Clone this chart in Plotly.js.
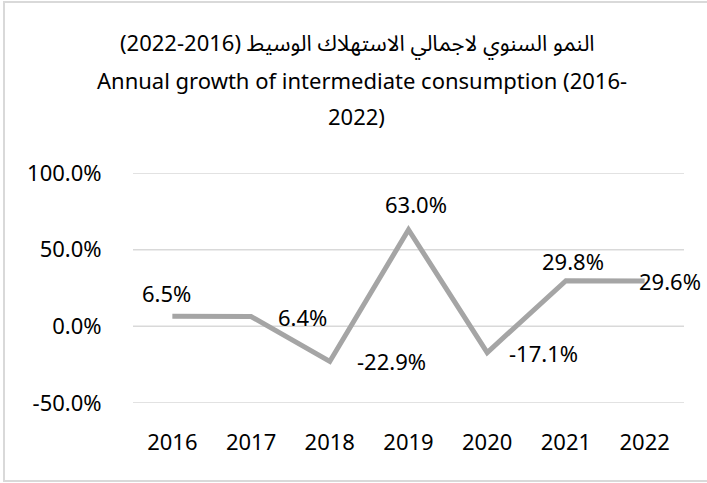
<!DOCTYPE html>
<html>
<head>
<meta charset="utf-8">
<script src="https://cdn.plot.ly/plotly-3.0.1.min.js"></script>
<style>
html,body{margin:0;padding:0;background:#fff;overflow:hidden;}
#frame{position:absolute;left:3px;top:1px;width:712px;height:481px;border:2px solid #d9d9d9;box-sizing:border-box;pointer-events:none;}
#chart{position:absolute;left:0;top:0;width:707px;height:483px;}
</style>
</head>
<body>
<div id="chart"></div>
<div id="frame"></div>
<script>
const years = [2016, 2017, 2018, 2019, 2020, 2021, 2022];
const yearLabels = ["2016","2017","2018","2019","2020","2021","2022"];
const growth = [6.5, 6.4, -22.9, 63.0, -17.1, 29.8, 29.6];
const labelText = ["6.5%","6.4%","-22.9%","63.0%","-17.1%","29.8%","29.6%"];
const yTicks = [-50, 0, 50, 100];
const yTickText = ["-50.0%","0.0%","50.0%","100.0%"];
const titleLines = ["النمو السنوي لاجمالي الاستهلاك الوسيط (2016-2022)",
                    "Annual growth of intermediate consumption (2016-",
                    "2022)"];

const FONT = "'Noto Sans', 'Noto Sans Arabic', 'DejaVu Sans', sans-serif";
const FS = 22;
const labelShiftX = [-6, 51, 62, 7, 56, 7, 25];
const labelShiftY = [23, 0, 0, 26, 0, 20, 0];

const annotations = years.map((y, i) => ({
  x: y, y: growth[i], xref: 'x', yref: 'y',
  text: labelText[i], showarrow: false,
  xanchor: 'center', yanchor: 'middle',
  xshift: labelShiftX[i], yshift: labelShiftY[i],
  font: {family: FONT, size: FS, color: '#000'}
}));
const titleY = [1.561, 1.404, 1.248];
const titleX = [0.408, 0.415, 0.405];
titleLines.forEach((t, i) => annotations.push({
  x: titleX[i], y: titleY[i], xref: 'paper', yref: 'paper',
  text: t, showarrow: false, xanchor: 'center', yanchor: 'middle',
  font: {family: FONT, size: FS, color: '#000'}
}));

const gridShapes = yTicks.map(v => ({
  type: 'line', xref: 'paper', yref: 'y', x0: 0, x1: 1, y0: v, y1: v,
  line: {color: '#d9d9d9', width: 1.5}, layer: 'below'
}));

Plotly.newPlot('chart', [{
  x: years, y: growth, type: 'scatter', mode: 'lines',
  line: {color: '#a5a5a5', width: 5},
  hoverinfo: 'skip', cliponaxis: false
}], {
  width: 707, height: 483,
  margin: {l: 133, r: 23, t: 173, b: 80},
  paper_bgcolor: '#fff', plot_bgcolor: '#fff',
  showlegend: false,
  font: {family: FONT, size: FS, color: '#000'},
  xaxis: {type: 'linear', range: [2015.5, 2022.5], tickvals: years, ticktext: yearLabels,
          showgrid: false, zeroline: false, showline: false,
          ticks: 'outside', ticklen: 20, tickcolor: 'rgba(0,0,0,0)',
          tickfont: {family: FONT, size: FS, color: '#000'}},
  yaxis: {range: [-50, 100], tickvals: yTicks, ticktext: yTickText,
          showgrid: false, zeroline: false,
          showline: false, ticks: 'outside', ticklen: 26, tickcolor: 'rgba(0,0,0,0)',
          tickfont: {family: FONT, size: FS, color: '#000'}},
  shapes: gridShapes,
  annotations: annotations
}, {displayModeBar: false, staticPlot: true});
</script>
</body>
</html>
